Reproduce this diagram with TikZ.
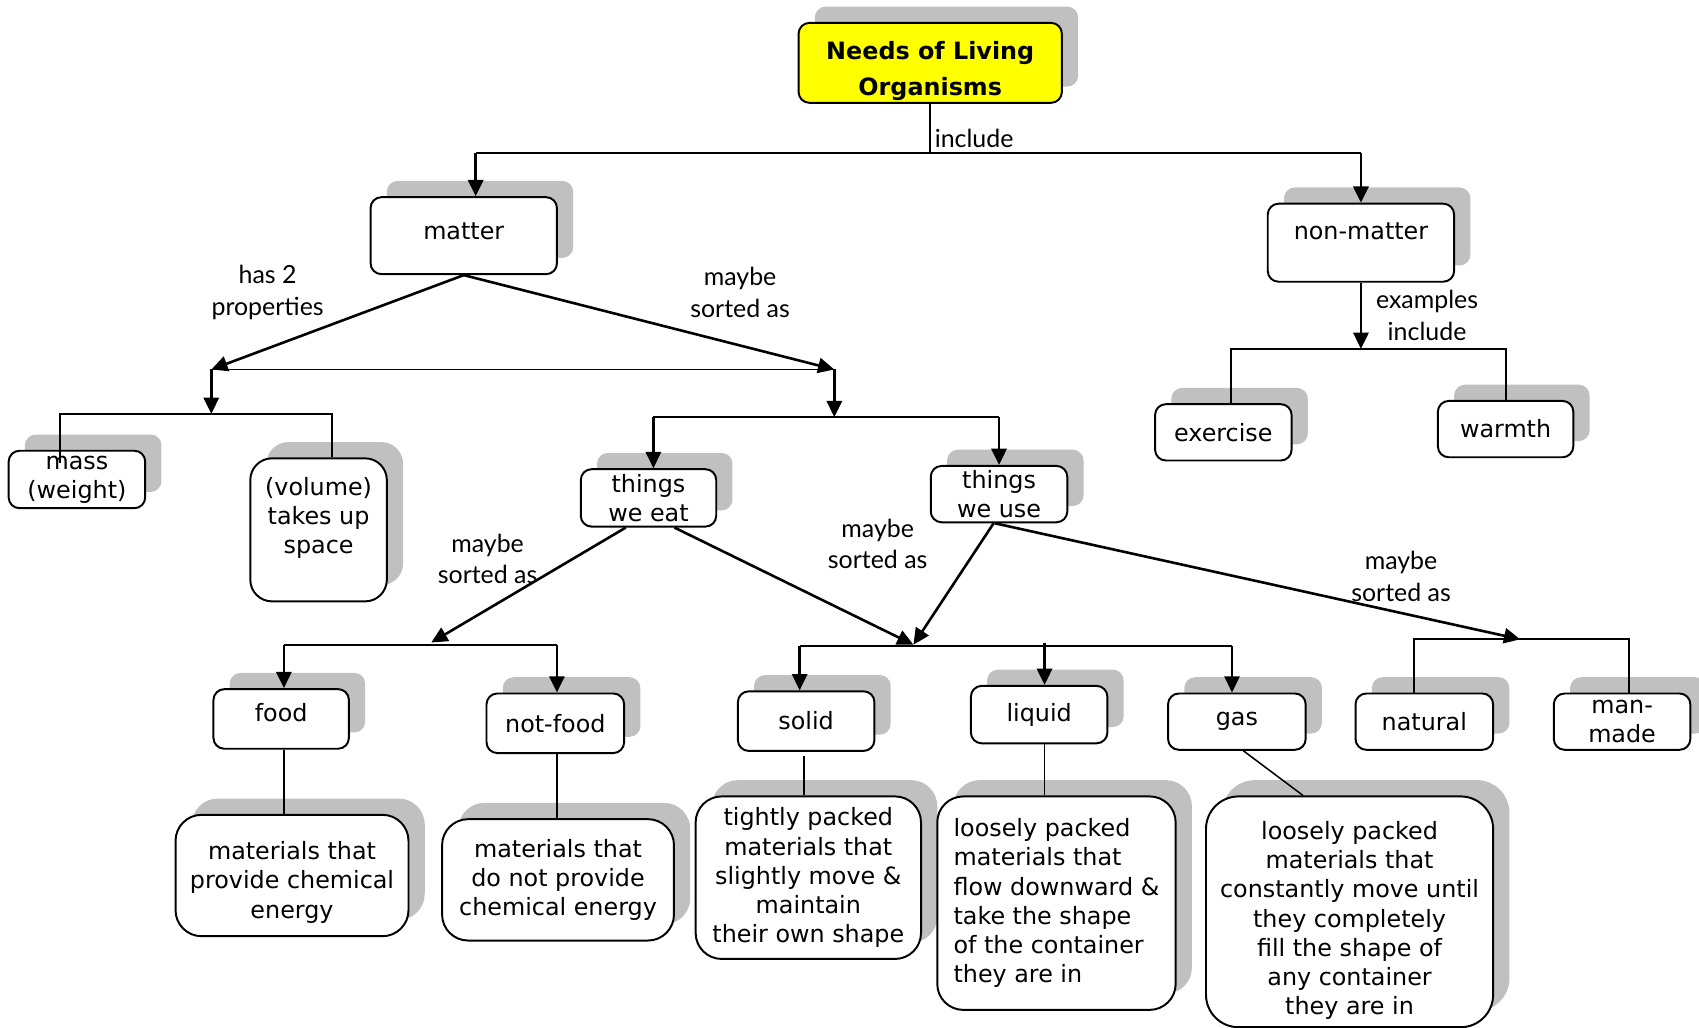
\documentclass[tikz,border=0pt]{standalone}
\usepackage{fontspec}
\setmainfont{DejaVu Sans}
\newfontfamily\handfont{Lato}
\usetikzlibrary{arrows.meta,shadows,calc}
\definecolor{shadegray}{HTML}{C0C0C0}
\definecolor{titleyellow}{HTML}{FFFF00}
% extra room above the first line / below the last line of a node text
\newcommand{\padtop}[1]{\rule{0pt}{#1}}
\newcommand{\padbot}[1]{\rule[-#1]{0pt}{#1}}

\begin{document}
\begin{tikzpicture}[x=1pt,y=-1pt,
  every node/.style={font=\fontsize{22}{27}\selectfont},
  box/.style={draw=black, line width=1.8pt, fill=white, rounded corners=10pt,
    align=center, inner sep=2pt,
    drop shadow={shadow xshift=15pt, shadow yshift=15pt, fill=shadegray,
      opacity=1, draw=none}},
  bigbox/.style={box, rounded corners=24pt},
  lbl/.style={font=\handfont\fontsize{23}{29}\selectfont, align=center, inner sep=0pt},
  link/.style={line width=1.8pt},
  arr/.style={line width=2.4pt, -{Triangle[length=15pt,width=14pt]}},
  stem/.style={line width=1.4pt},
]
\fill[white] (0,0) rectangle (1568,948);
\useasboundingbox (0,0) rectangle (1568,948);

% ---------- concept boxes ----------
\node[box, fill=titleyellow, font=\bfseries\fontsize{22}{33}\selectfont,
      minimum width=243pt, minimum height=72pt] (title) at (858.5,58)
      {\padtop{32pt}Needs of Living\\Organisms};

\node[box, minimum width=172pt, minimum height=71pt] (matter) at (428,217.5) {matter\padbot{9pt}};
\node[box, minimum width=172pt, minimum height=72pt] (nonmatter) at (1256,224) {non-matter\padbot{22pt}};

\node[box, minimum width=126pt, minimum height=52pt] (exercise) at (1129,399) {exercise};
\node[box, minimum width=125pt, minimum height=52pt] (warmth) at (1389.5,396) {warmth};

\node[box, minimum width=126pt, minimum height=53pt] (mass) at (71,442.5) {mass\\(weight)};
\node[bigbox, rounded corners=20pt, minimum width=126pt, minimum height=132pt] (volume) at (294,489)
      {(volume)\\takes up\\space\\\mbox{}};

\node[box, minimum width=125pt, minimum height=53pt] (eat) at (598.5,459.5) {things\\we eat};
\node[box, minimum width=126pt, minimum height=52pt] (use) at (922,456) {things\\we use};

\node[box, minimum width=125pt, minimum height=55pt] (food) at (259.5,663.5) {food\padbot{12pt}};
\node[box, minimum width=127pt, minimum height=55pt] (notfood) at (512.5,667.5) {not-food};
\node[box, minimum width=126pt, minimum height=55pt] (solid) at (744,665.5) {solid};
\node[box, minimum width=126pt, minimum height=53pt] (liquid) at (959,659.5) {liquid};
\node[box, minimum width=127pt, minimum height=52pt] (gas) at (1141.5,666) {gas};
\node[box, minimum width=127pt, minimum height=52pt] (natural) at (1314.5,666) {natural};
\node[box, minimum width=126pt, minimum height=52pt] (manmade) at (1497,666) {man-\\made};

\node[bigbox, minimum width=215pt, minimum height=112pt] (fooddesc) at (269.5,808)
      {\padtop{29pt}materials that\\provide chemical\\energy};
\node[bigbox, minimum width=214pt, minimum height=112pt] (notfooddesc) at (515,812)
      {materials that\\do not provide\\chemical energy};
\node[bigbox, minimum width=208pt, minimum height=150pt] (soliddesc) at (746,810)
      {tightly packed\\materials that\\slightly move \&\\maintain\\their own shape};
\node[bigbox, align=left, minimum width=220pt, minimum height=197pt] (liquiddesc) at (975,833.5)
      {loosely packed\\materials that\\flow downward \&\\take the shape\\of the container\\they are in};
\node[bigbox, rounded corners=30pt, minimum width=265pt, minimum height=213pt] (gasdesc) at (1245.5,841.5)
      {\padtop{33pt}loosely packed\\materials that\\constantly move until\\they completely\\fill the shape of\\any container\\they are in};

% ---------- linking phrases ----------
\node[lbl] (lInclude) at (899,128) {include};
\node[lbl] (lProp) at (247,270) {has 2\\properties};
\node[lbl] (lSortM) at (683,270) {maybe\\sorted as};
\node[lbl] (lEx) at (1317,291) {examples\\include};
\node[lbl] (lSortE) at (450,516) {maybe\\sorted as};
\node[lbl] (lSortU) at (810,502) {maybe\\sorted as};
\node[lbl] (lSortR) at (1293,532) {maybe\\sorted as};

% ---------- junction points ----------
\coordinate (incJ) at (title.south |- 0,141);
\coordinate (incL) at (439,141);
\coordinate (incR) at (1256,141);
\coordinate (exJ) at (1256,322);
\coordinate (exL) at (1136,322);
\coordinate (exR) at (1390,322);
\coordinate (propJ) at (195,341);
\coordinate (sortJ) at (770,341);
\coordinate (propK) at (195,382);
\coordinate (sortK) at (770,385);
\coordinate (massJ) at (55,382);
\coordinate (volJ) at (306,382);
\coordinate (eatJ) at (603,385);
\coordinate (useJ) at (922,385);
\coordinate (foodJ) at (398,593);
\coordinate (foodL) at (262,595);
\coordinate (foodR) at (514,595);
\coordinate (stateJ) at (843,595);
\coordinate (stL) at (738,596);
\coordinate (stM) at (964,596);
\coordinate (stR) at (1137,596);
\coordinate (solX) at (742,596);
\coordinate (origJ) at (1403,590);
\coordinate (orL) at (1305,590);
\coordinate (orR) at (1503,590);

% ---------- connectors ----------
\draw[link] (title.south) -- (incJ);
\draw[link] (incL) -- (incR);
\draw[arr] (incL) -- (incL |- matter.north);
\draw[arr] (incR) -- (incR |- nonmatter.north);

\draw[arr] (nonmatter.south) -- (exJ);
\draw[link] (exL |- exercise.north) -- (exL) -- (exR) -- (exR |- warmth.north);

\draw[arr] (matter.south) -- (propJ);
\draw[arr] (matter.south) -- (sortJ);
\draw[link] (propJ) -- (sortJ);
\draw[arr] (propJ) -- (propK);
\draw[arr] (sortJ) -- (sortK);
\draw[link] ($(massJ |- mass.north)+(0,12)$) -- (massJ) -- (volJ) -- (volJ |- volume.north);

\draw[link] (eatJ) -- (useJ);
\draw[arr] (eatJ) -- (eatJ |- eat.north);
\draw[arr] (useJ) -- (use.north);

\draw[arr] ($(eat.south)+(-21,0)$) -- (foodJ);
\draw[arr] ($(eat.south)+(24,0)$) -- (stateJ);
\draw[arr] ($(use.south)+(-5,0)$) -- (stateJ);
\draw[arr] ($(use.south)+(-4,0)$) -- (origJ);

\draw[link] (foodL) -- (foodR);
\draw[arr] (foodL) -- (foodL |- food.north);
\draw[arr] (foodR) -- (foodR |- notfood.north);

\draw[link] (stL) -- (stR);
\draw[arr] (stL) -- (stL |- solid.north);
\draw[arr] ($(stM)+(0,-3)$) -- (stM |- liquid.north);
\draw[arr] (stR) -- (stR |- gas.north);

\draw[link] (orL |- natural.north) -- (orL) -- (orR) -- (orR |- manmade.north);

\draw[stem] (foodL |- food.south) -- (foodL |- fooddesc.north);
\draw[stem] (foodR |- notfood.south) -- (foodR |- notfooddesc.north);
\draw[stem] ($(solX |- solid.south)+(0,4)$) -- (solX |- soliddesc.north);
\draw[stem] (stM |- liquid.south) -- (stM |- liquiddesc.north);
\draw[stem] ($(gas.south)+(6,0)$) -- ($(gasdesc.north)+(-43,0)$);
\end{tikzpicture}
\end{document}
